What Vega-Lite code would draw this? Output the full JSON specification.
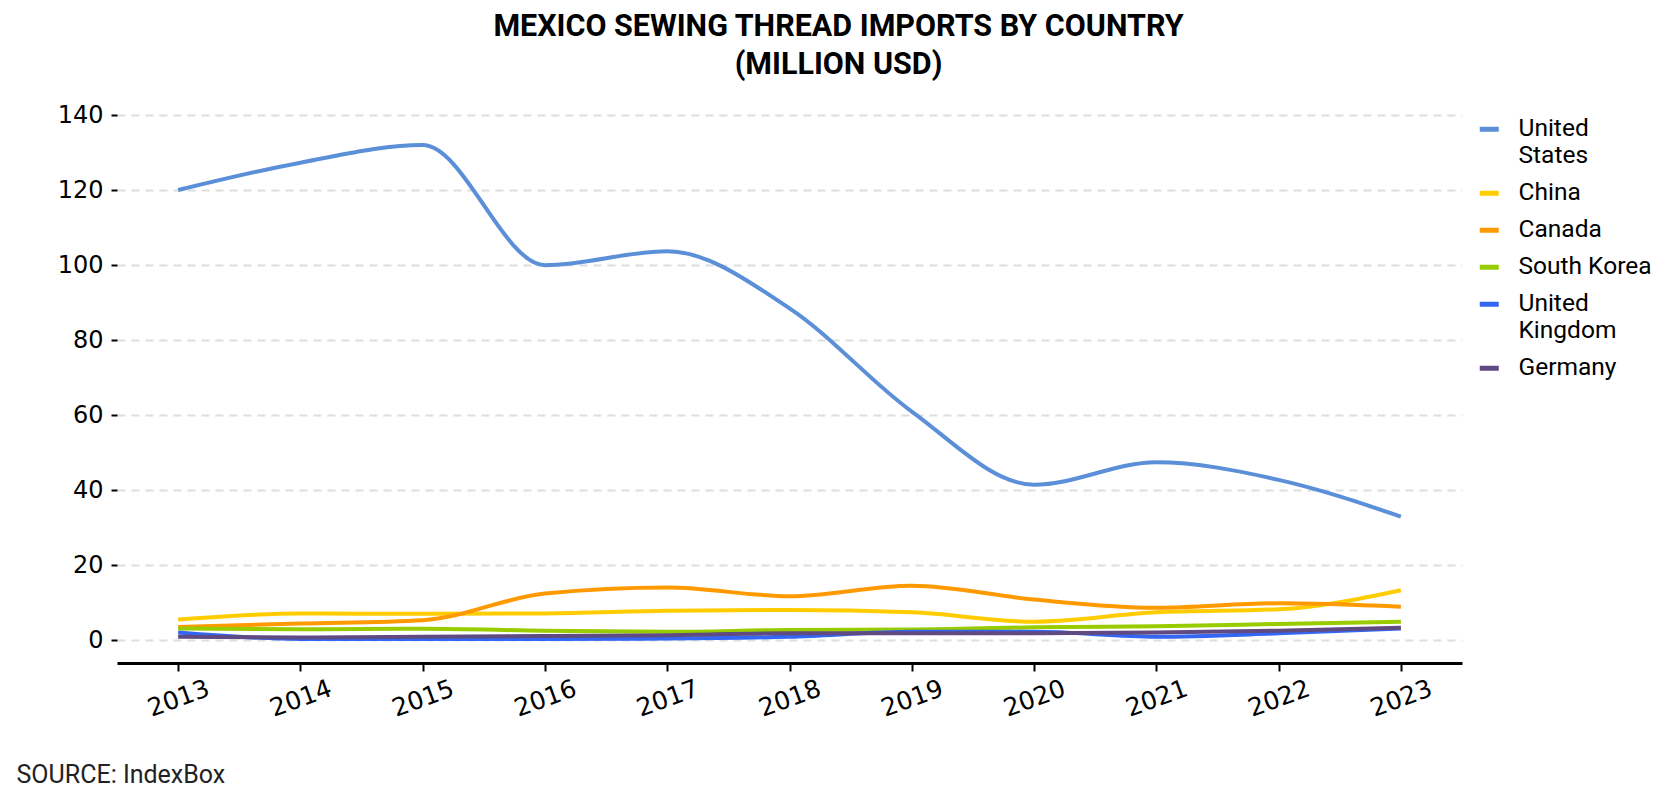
{
  "$schema": "https://vega.github.io/schema/vega-lite/v6.json",
  "autosize": "none",
  "width": 1345,
  "height": 548,
  "padding": {"left": 117, "top": 115, "right": 218, "bottom": 137},
  "background": "white",
  "title": {
    "text": ["MEXICO SEWING THREAD IMPORTS BY COUNTRY", "(MILLION USD)"],
    "font": "Roboto",
    "fontSize": 30.5,
    "fontWeight": "bold",
    "color": "#000000",
    "lineHeight": 38,
    "anchor": "middle",
    "dx": 49,
    "offset": 23
  },
  "data": {
    "values": [
      {"year": 2013, "country": "United States", "value": 120},
      {"year": 2014, "country": "United States", "value": 127.3},
      {"year": 2015, "country": "United States", "value": 132},
      {"year": 2016, "country": "United States", "value": 100},
      {"year": 2017, "country": "United States", "value": 103.7},
      {"year": 2018, "country": "United States", "value": 88.5},
      {"year": 2019, "country": "United States", "value": 61},
      {"year": 2020, "country": "United States", "value": 41.5},
      {"year": 2021, "country": "United States", "value": 47.5},
      {"year": 2022, "country": "United States", "value": 42.8},
      {"year": 2023, "country": "United States", "value": 33},
      {"year": 2013, "country": "China", "value": 5.6},
      {"year": 2014, "country": "China", "value": 7.2},
      {"year": 2015, "country": "China", "value": 7.1},
      {"year": 2016, "country": "China", "value": 7.2},
      {"year": 2017, "country": "China", "value": 7.9},
      {"year": 2018, "country": "China", "value": 8.1},
      {"year": 2019, "country": "China", "value": 7.5},
      {"year": 2020, "country": "China", "value": 5.0},
      {"year": 2021, "country": "China", "value": 7.5},
      {"year": 2022, "country": "China", "value": 8.3},
      {"year": 2023, "country": "China", "value": 13.4},
      {"year": 2013, "country": "Canada", "value": 3.6},
      {"year": 2014, "country": "Canada", "value": 4.5},
      {"year": 2015, "country": "Canada", "value": 5.4},
      {"year": 2016, "country": "Canada", "value": 12.5},
      {"year": 2017, "country": "Canada", "value": 14.1},
      {"year": 2018, "country": "Canada", "value": 11.8},
      {"year": 2019, "country": "Canada", "value": 14.6},
      {"year": 2020, "country": "Canada", "value": 10.9},
      {"year": 2021, "country": "Canada", "value": 8.7},
      {"year": 2022, "country": "Canada", "value": 9.9},
      {"year": 2023, "country": "Canada", "value": 9.0},
      {"year": 2013, "country": "South Korea", "value": 3.2},
      {"year": 2014, "country": "South Korea", "value": 3.0},
      {"year": 2015, "country": "South Korea", "value": 3.1},
      {"year": 2016, "country": "South Korea", "value": 2.6},
      {"year": 2017, "country": "South Korea", "value": 2.3},
      {"year": 2018, "country": "South Korea", "value": 2.8},
      {"year": 2019, "country": "South Korea", "value": 2.9},
      {"year": 2020, "country": "South Korea", "value": 3.5},
      {"year": 2021, "country": "South Korea", "value": 3.8},
      {"year": 2022, "country": "South Korea", "value": 4.4},
      {"year": 2023, "country": "South Korea", "value": 5.0},
      {"year": 2013, "country": "United Kingdom", "value": 2.1},
      {"year": 2014, "country": "United Kingdom", "value": 0.4},
      {"year": 2015, "country": "United Kingdom", "value": 0.4},
      {"year": 2016, "country": "United Kingdom", "value": 0.4},
      {"year": 2017, "country": "United Kingdom", "value": 0.5},
      {"year": 2018, "country": "United Kingdom", "value": 1.0},
      {"year": 2019, "country": "United Kingdom", "value": 2.3},
      {"year": 2020, "country": "United Kingdom", "value": 2.3},
      {"year": 2021, "country": "United Kingdom", "value": 1.0},
      {"year": 2022, "country": "United Kingdom", "value": 1.9},
      {"year": 2023, "country": "United Kingdom", "value": 3.2},
      {"year": 2013, "country": "Germany", "value": 1.0},
      {"year": 2014, "country": "Germany", "value": 0.8},
      {"year": 2015, "country": "Germany", "value": 1.0},
      {"year": 2016, "country": "Germany", "value": 1.2},
      {"year": 2017, "country": "Germany", "value": 1.4},
      {"year": 2018, "country": "Germany", "value": 1.9},
      {"year": 2019, "country": "Germany", "value": 1.9},
      {"year": 2020, "country": "Germany", "value": 1.9},
      {"year": 2021, "country": "Germany", "value": 2.1},
      {"year": 2022, "country": "Germany", "value": 2.6},
      {"year": 2023, "country": "Germany", "value": 3.4}
    ]
  },
  "mark": {"type": "line", "interpolate": "monotone", "strokeWidth": 4, "strokeCap": "butt"},
  "encoding": {
    "x": {
      "field": "year",
      "type": "quantitative",
      "scale": {"domain": [2012.5, 2023.5], "nice": false, "zero": false},
      "axis": {
        "values": [2013, 2014, 2015, 2016, 2017, 2018, 2019, 2020, 2021, 2022, 2023],
        "format": "d",
        "grid": false,
        "domain": true,
        "domainColor": "#000000",
        "domainWidth": 3,
        "ticks": true,
        "tickColor": "#000000",
        "tickWidth": 2,
        "tickSize": 8,
        "labelFont": "DejaVu Sans",
        "labelFontSize": 25,
        "labelColor": "#000000",
        "labelAngle": -20,
        "labelAlign": "center",
        "labelBaseline": "middle",
        "labelPadding": 27,
        "labelOverlap": false,
        "title": "SOURCE: IndexBox",
        "titleFont": "Roboto",
        "titleFontSize": 25,
        "titleFontWeight": "normal",
        "titleColor": "#222222",
        "titleAnchor": "start",
        "titleAlign": "left",
        "titleBaseline": "middle",
        "titleX": -101,
        "titleY": 111
      }
    },
    "y": {
      "field": "value",
      "type": "quantitative",
      "scale": {"domain": [-6, 140], "nice": false, "zero": false},
      "axis": {
        "values": [0, 20, 40, 60, 80, 100, 120, 140],
        "title": null,
        "domain": false,
        "grid": true,
        "gridColor": "#dddddd",
        "gridWidth": 2,
        "gridDash": [8, 6],
        "ticks": true,
        "tickColor": "#000000",
        "tickWidth": 2,
        "tickSize": 6,
        "labelFont": "DejaVu Sans",
        "labelFontSize": 24,
        "labelColor": "#000000",
        "labelPadding": 8
      }
    },
    "color": {
      "field": "country",
      "type": "nominal",
      "scale": {
        "domain": ["United States", "China", "Canada", "South Korea", "United Kingdom", "Germany"],
        "range": ["#5b8fd8", "#ffcc00", "#ff9900", "#99cc00", "#3366f5", "#5f4a82"]
      },
      "legend": {
        "title": null,
        "orient": "right",
        "offset": 13,
        "padding": 2,
        "symbolType": "stroke",
        "symbolStrokeWidth": 5,
        "symbolSize": 361,
        "labelFont": "Roboto",
        "labelFontSize": 24.5,
        "labelColor": "#000000",
        "labelOffset": 17,
        "labelLimit": 200,
        "rowPadding": 12,
        "labelExpr": "datum.label == 'United States' ? ['United', 'States'] : datum.label == 'United Kingdom' ? ['United', 'Kingdom'] : datum.label"
      }
    }
  },
  "config": {
    "view": {"stroke": null}
  }
}
